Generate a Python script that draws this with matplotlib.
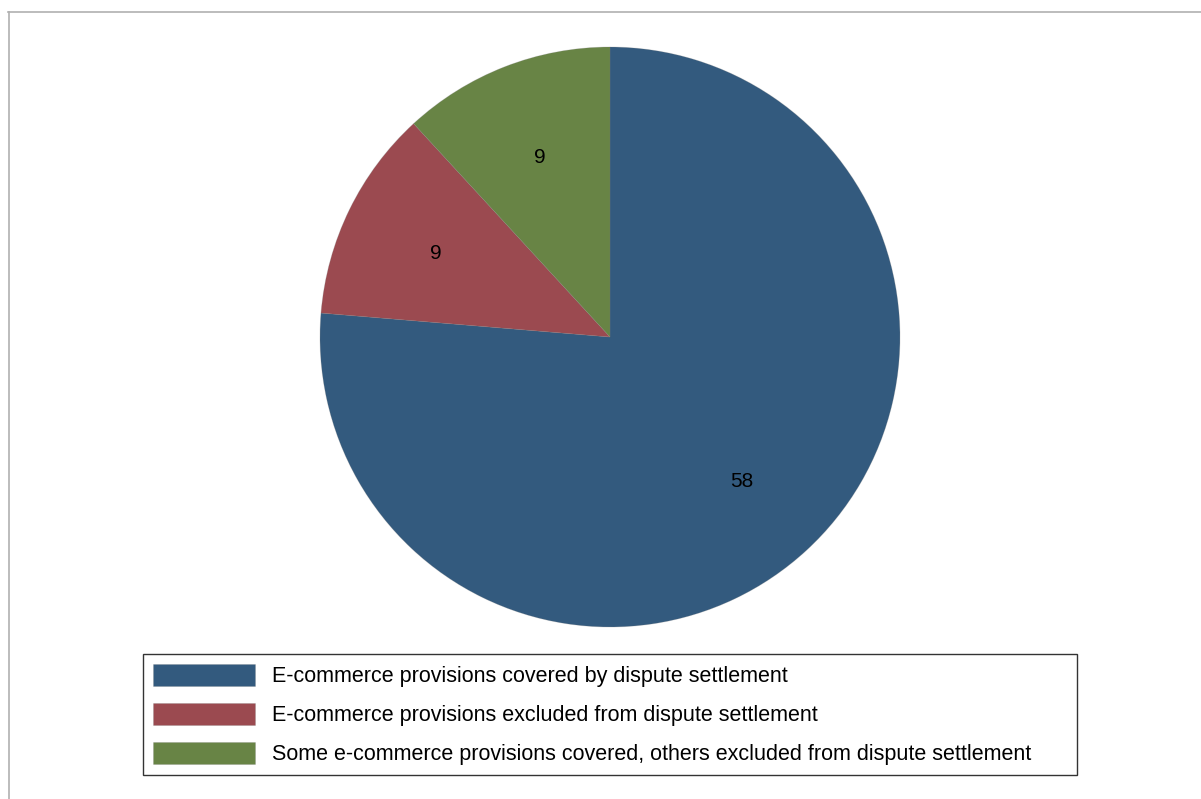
import matplotlib
matplotlib.use("Agg")
import matplotlib.pyplot as plt
from matplotlib.lines import Line2D

plt.rcParams["font.family"] = ["Liberation Sans", "DejaVu Sans"]

categories = [
    "E-commerce provisions covered by dispute settlement",
    "E-commerce provisions excluded from dispute settlement",
    "Some e-commerce provisions covered, others excluded from dispute settlement",
]
counts = [58, 9, 9]
colors = ["#335a7e", "#9b4a50", "#688445"]

W, H = 1201, 799
fig = plt.figure(figsize=(W / 100, H / 100), dpi=100)

# pie axes: centre (610, 337) px, radius 290 px
cx, cy, r = 610, 337, 290
ax = fig.add_axes([(cx - r) / W, (H - cy - r) / H, 2 * r / W, 2 * r / H])
wedges, texts = ax.pie(
    counts,
    colors=colors,
    startangle=90,
    counterclock=False,
    labels=[str(c) for c in counts],
    labeldistance=0.67,
    textprops=dict(fontsize=15, color="black", ha="center", va="center_baseline"),
    wedgeprops=dict(linewidth=0.6, edgecolor="#7a7a7a40"),
)
ax.set_xlim(-1, 1)
ax.set_ylim(-1, 1)
ax.set_aspect("equal")
ax.axis("off")

# thin grey frame along top and left
fig.add_artist(Line2D([8 / W, 1.0], [1 - 11.5 / H, 1 - 11.5 / H], color="#b0b0b0", lw=1.2))
fig.add_artist(Line2D([8.5 / W, 8.5 / W], [0, 1 - 11.5 / H], color="#b0b0b0", lw=1.2))

# legend box spanning x 143..1077 px, y 653..776 px
lx0, lx1, ly0, ly1 = 143, 1077, 653, 776
leg = fig.legend(
    wedges,
    categories,
    loc="center",
    mode="expand",
    bbox_to_anchor=(lx0 / W, 1 - ly1 / H, (lx1 - lx0) / W, (ly1 - ly0) / H),
    fontsize=15.5,
    frameon=True,
    fancybox=False,
    edgecolor="black",
    handlelength=4.7,
    handleheight=1.2,
    handletextpad=0.82,
    labelspacing=0.72,
    borderpad=0.48,
    borderaxespad=0,
)
leg.get_frame().set_linewidth(1.0)

fig.savefig("out.png", dpi=100)
